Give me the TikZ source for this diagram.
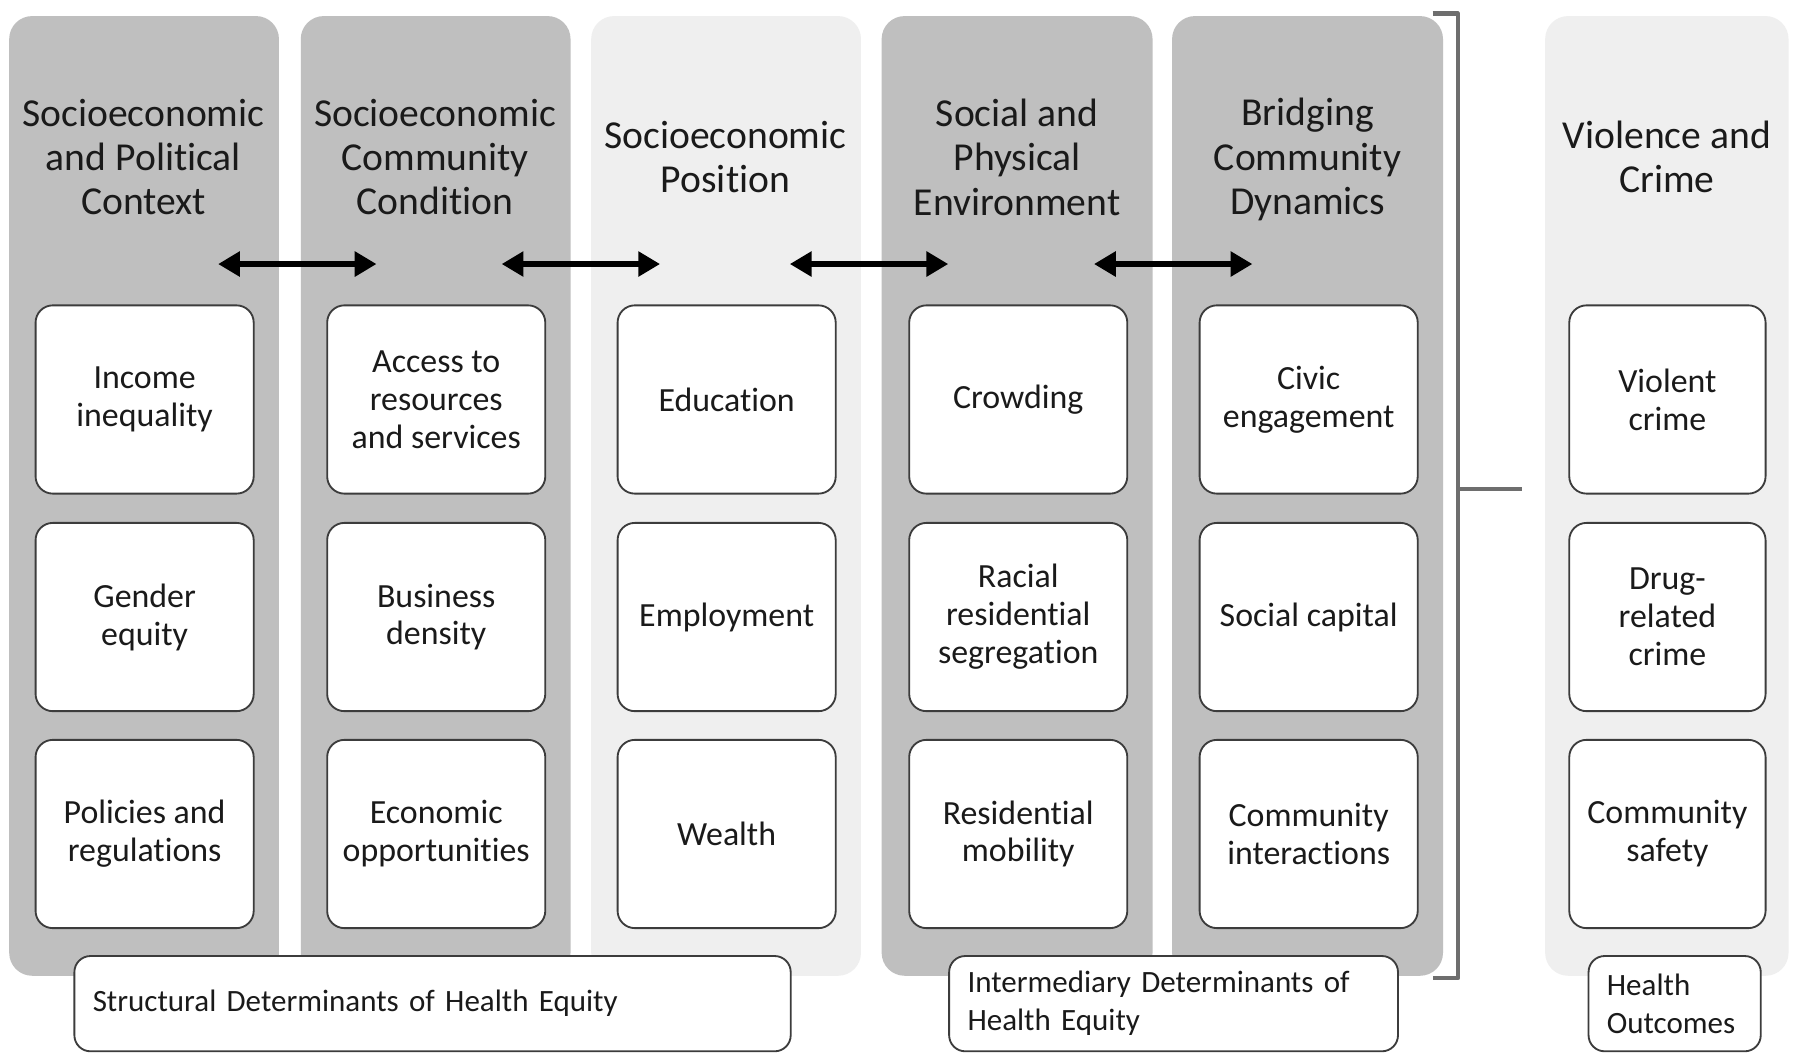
\documentclass[tikz,border=0pt]{standalone}
\usepackage{fontspec}
\setmainfont{Carlito}[Ligatures=NoCommon]
\usetikzlibrary{arrows.meta}
\definecolor{darkcol}{HTML}{BFBFBF}
\definecolor{lightcol}{HTML}{EFEFEF}
\definecolor{boxline}{HTML}{3C3C3C}
\definecolor{brk}{HTML}{6E6E6E}
\definecolor{ink}{HTML}{1A1A1A}
\begin{document}
\begin{tikzpicture}[x=1pt,y=-1pt,
  colbg/.style={draw=none,rounded corners=20pt,minimum height=836pt,inner sep=0pt},
  coltitle/.style={align=center,text=ink,font=\fontsize{34.5}{38.5}\selectfont},
  itembox/.style={draw=boxline,line width=1.6pt,fill=white,rounded corners=15pt,
    minimum width=190pt,minimum height=164pt,align=center,text=ink,inner sep=0pt,
    font=\fontsize{29.5}{33}\selectfont},
  notebox/.style={draw=boxline,line width=1.6pt,fill=white,rounded corners=14pt,
    align=left,text=ink,inner xsep=16pt,inner ysep=0pt,minimum height=83pt,
    font=\fontsize{27}{33}\selectfont},
  linkarrow/.style={line width=5.5pt,{Triangle[length=19pt,width=21pt]}-{Triangle[length=19pt,width=21pt]}},
  bracketline/.style={draw=brk,line width=4pt}
]
\useasboundingbox (0,0) rectangle (1568,925);
\fill[white] (0,0) rectangle (1568,925);

% columns
\node[colbg,fill=darkcol,minimum width=235pt] (c1) at (125.5,432) {};
\node[colbg,fill=darkcol,minimum width=235pt] (c2) at (379.5,432) {};
\node[colbg,fill=lightcol,minimum width=235pt] (c3) at (632.5,432) {};
\node[colbg,fill=darkcol,minimum width=236pt] (c4) at (886,432) {};
\node[colbg,fill=darkcol,minimum width=236pt] (c5) at (1139,432) {};
\node[colbg,fill=lightcol,minimum width=212pt] (c6) at (1452,432) {};

% titles
\node[coltitle] (t1) at (125,137) {Socioeconomic\\and Political\\Context};
\node[coltitle] (t2) at (379,137) {Socioeconomic\\Community\\Condition};
\node[coltitle] (t3) at (632,137) {Socioeconomic\\Position};
\node[coltitle] (t4) at (886,137) {Social and\\Physical\\Environment};
\node[coltitle] (t5) at (1139,139) {Bridging\\Community\\Dynamics};
\node[coltitle] (t6) at (1452,137) {Violence and\\Crime};

% arrows
\coordinate (a1l) at (190,230); \coordinate (a1r) at (328,230);
\coordinate (a2l) at (437,230); \coordinate (a2r) at (575,230);
\coordinate (a3l) at (688,230); \coordinate (a3r) at (826,230);
\coordinate (a4l) at (953,230); \coordinate (a4r) at (1091,230);
\draw[linkarrow] (a1l) -- (a1r);
\draw[linkarrow] (a2l) -- (a2r);
\draw[linkarrow] (a3l) -- (a3r);
\draw[linkarrow] (a4l) -- (a4r);

% items column 1
\node[itembox] (b11) at (126,348) {Income\\inequality};
\node[itembox] (b12) at (126,537.5) {Gender\\equity};
\node[itembox] (b13) at (126,726.5) {Policies and\\regulations};
% column 2
\node[itembox] (b21) at (380,348) {Access to\\resources\\and services};
\node[itembox] (b22) at (380,537.5) {Business\\density};
\node[itembox] (b23) at (380,726.5) {Economic\\opportunities};
% column 3
\node[itembox] (b31) at (633,348) {Education};
\node[itembox] (b32) at (633,537.5) {Employment};
\node[itembox] (b33) at (633,726.5) {Wealth};
% column 4
\node[itembox] (b41) at (887,348) {Crowding};
\node[itembox] (b42) at (887,537.5) {Racial\\residential\\segregation};
\node[itembox] (b43) at (887,726.5) {Residential\\mobility};
% column 5
\node[itembox] (b51) at (1140,348) {Civic\\engagement};
\node[itembox] (b52) at (1140,537.5) {Social capital};
\node[itembox] (b53) at (1140,726.5) {Community\\interactions};
% column 6
\node[itembox,minimum width=171pt] (b61) at (1452.5,348) {Violent\\crime};
\node[itembox,minimum width=171pt] (b62) at (1452.5,537.5) {Drug-\\related\\crime};
\node[itembox,minimum width=171pt] (b63) at (1452.5,726.5) {Community\\safety};

% bracket
\draw[bracketline,line join=round] (1248,12) -- (1270,12) -- (1270,852) -- (1248,852);
\draw[bracketline] (1270,426) -- (1326,426);

% bottom notes
\node[notebox,anchor=north west,text width=592pt] (sd) at (64,832)
  {Structural Determinants of Health Equity};
\node[notebox,anchor=north west,text width=359pt] (id) at (826,832)
  {\makebox[338pt][s]{Intermediary Determinants of}\\Health Equity};
\node[notebox,anchor=north west,text width=118pt] (ho) at (1383,832)
  {Health\\Outcomes};
\end{tikzpicture}
\end{document}
